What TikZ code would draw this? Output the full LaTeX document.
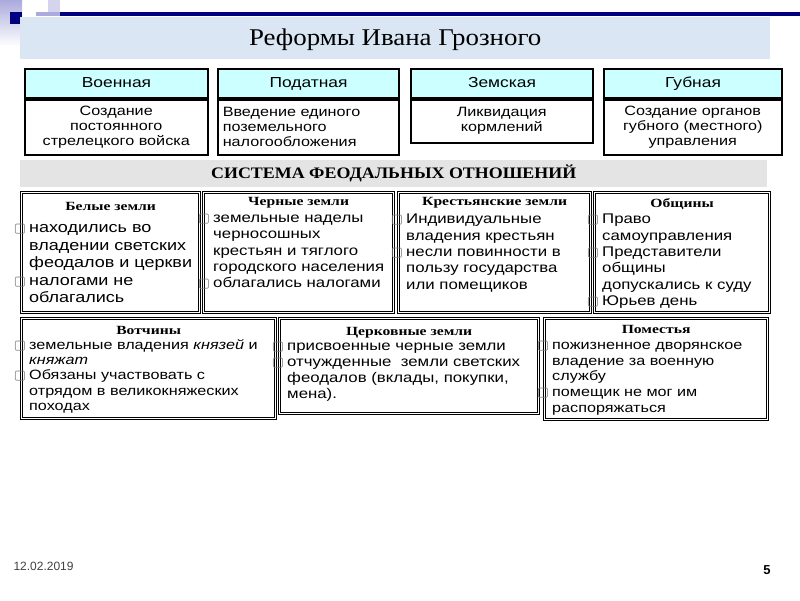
\documentclass[tikz,border=0pt]{standalone}
\usepackage{fontspec}
\setmainfont[FakeStretch=1.2]{Liberation Sans}
\newfontfamily\headface[FakeStretch=1.25]{Liberation Serif}
\newfontfamily\titleface[FakeStretch=1.12]{Liberation Serif}
\newfontfamily\footface{Liberation Sans}
\newfontfamily\symbface{DejaVu Sans}
\usepackage{tikz}
\usetikzlibrary{positioning}

\definecolor{navyline}{RGB}{0,0,128}
\definecolor{lavender}{RGB}{170,170,220}
\definecolor{headcyan}{RGB}{204,255,255}
\definecolor{titleblue}{RGB}{218,230,243}
\definecolor{bandgrey}{RGB}{228,228,228}
\definecolor{bulgrey}{RGB}{125,125,125}

\newcommand{\bul}{\llap{\textcolor{bulgrey}{\symbface\fontsize{13}{13}\selectfont ▢}\hspace{3pt}}}

\begin{document}
\begin{tikzpicture}[
  x=1pt, y=-1pt,
  reformhead/.style={
    draw=black,
    fill=headcyan,
    line width=2pt,
    anchor=north west,
    inner sep=0pt,
    minimum height=29pt,
    text height=10.5pt,
    text depth=3pt,
    font=\fontsize{14.5}{16}\selectfont
  },
  reformbody/.style={
    draw=black,
    fill=white,
    line width=1.5pt,
    anchor=north west,
    inner sep=0pt,
    align=center,
    font=\fontsize{13.5}{15}\selectfont
  },
  landbox/.style={
    draw=black,
    fill=white,
    line width=1.25pt,
    double=white,
    double distance=1.1pt,
    anchor=north west,
    inner sep=0pt
  },
  landtitle/.style={
    inner sep=0pt,
    font=\headface\bfseries\fontsize{12.5}{14}\selectfont
  },
  landtext/.style={
    anchor=north west,
    inner sep=0pt,
    align=left
  }
]
\useasboundingbox (0,0) rectangle (800,600);

% corner ornament
\shade[top color=lavender, bottom color=white] (0,0) rectangle (22,46);
\fill[lavender!50] (48,0) rectangle (60,12);
\fill[lavender] (36,12) rectangle (60,16);
\fill[navyline] (10,12) rectangle (22,24);
\fill[navyline] (60,12) rectangle (800,16);

% Title
\node[fill=titleblue, anchor=north west, inner sep=0pt,
  minimum width=750pt, minimum height=42pt, text depth=2pt,
  font=\titleface\fontsize{24}{28}\selectfont] (titleband) at (20,17)
{Реформы Ивана Грозного};

% -------------------------------------------------------------------
% reforms
% -------------------------------------------------------------------
\node[reformhead, minimum width=183pt] (milhead) at (24,68) {Военная};
\node[reformbody, minimum width=183pt, minimum height=55pt] (milbody)
  at (milhead.south west)
{Создание\\постоянного\\стрелецкого войска};

\node[reformhead, minimum width=181pt] (taxhead) at (217,68) {Податная};
\node[reformbody, minimum width=181pt, minimum height=55pt,
  text width=171pt, align=left] (taxbody)
  at (taxhead.south west)
{Введение единого\\поземельного\\налогообложения};

\node[reformhead, minimum width=182pt] (zemhead) at (410,68) {Земская};
\node[reformbody, minimum width=182pt, minimum height=43pt] (zembody)
  at (zemhead.south west)
{Ликвидация\\кормлений};

\node[reformhead, minimum width=178pt] (gubhead) at (603,68) {Губная};
\node[reformbody, minimum width=178pt, minimum height=55pt] (gubbody)
  at (gubhead.south west)
{Создание органов\\губного (местного)\\управления};

% -------------------------------------------------------------------
% feudal system
% -------------------------------------------------------------------
\node[fill=bandgrey, anchor=north west, inner sep=0pt,
  minimum width=747pt, minimum height=27pt,
  font=\titleface\bfseries\fontsize{16}{19}\selectfont] (feudband) at (20,160)
{СИСТЕМА ФЕОДАЛЬНЫХ ОТНОШЕНИЙ};

% white lands
\node[landbox, minimum width=178pt, minimum height=120pt] (white) at (21,192) {};
\node[landtitle] (whitetitle) at ([yshift=-14pt]white.north) {Белые земли};
\node[landtext, font=\fontsize{15}{17.5}\selectfont] (whitetext)
  at ([xshift=8pt,yshift=-32pt]white.north west)
{\bul находились во\\владении светских\\феодалов и церкви\\\bul налогами не\\облагались};

% black lands
\node[landbox, minimum width=190pt, minimum height=120pt] (black) at (203,192) {};
\node[landtitle] (blacktitle) at ([yshift=-11pt]black.north) {Черные земли};
\node[landtext, font=\fontsize{14}{16.3}\selectfont] (blacktext)
  at ([xshift=10pt,yshift=-22pt]black.north west)
{\bul земельные наделы\\черносошных\\крестьян и тяглого\\городского населения\\\bul облагались налогами};

% peasant lands
\node[landbox, minimum width=192pt, minimum height=120pt] (peasant) at (398,192) {};
\node[landtitle] (peasanttitle) at ([yshift=-11pt]peasant.north) {Крестьянские земли};
\node[landtext, font=\fontsize{14}{16.3}\selectfont] (peasanttext)
  at ([xshift=8pt,yshift=-22pt]peasant.north west)
{\bul Индивидуальные\\владения крестьян\\\bul несли повинности в\\пользу государства\\или помещиков};

% communes
\node[landbox, minimum width=175pt, minimum height=120pt] (commune) at (594,192) {};
\node[landtitle] (communetitle) at ([yshift=-12pt]commune.north) {Общины};
\node[landtext, font=\fontsize{14}{16.3}\selectfont] (communetext)
  at ([xshift=8pt,yshift=-22pt]commune.north west)
{\bul Право\\самоуправления\\\bul Представители\\общины\\допускались к суду\\\bul Юрьев день};

% patrimonies
\node[landbox, minimum width=254pt, minimum height=100pt] (votchina) at (21,318) {};
\node[landtitle] (votchinatitle) at ([yshift=-12pt]votchina.north) {Вотчины};
\node[landtext, font=\fontsize{13.5}{15.4}\selectfont] (votchinatext)
  at ([xshift=8pt,yshift=-21pt]votchina.north west)
{\bul земельные владения \textit{князей} и\\\textit{княжат}\\\bul Обязаны участвовать с\\отрядом в великокняжеских\\походах};

% church lands
\node[landbox, minimum width=259pt, minimum height=95pt] (church) at (279,318) {};
\node[landtitle] (churchtitle) at ([yshift=-15pt]church.north) {Церковные земли};
\node[landtext, font=\fontsize{14}{16}\selectfont] (churchtext)
  at ([xshift=8pt,yshift=-24pt]church.north west)
{\bul присвоенные черные земли\\\bul отчужденные\ \ земли светских\\феодалов (вклады, покупки,\\мена).};

% estates
\node[landbox, minimum width=223pt, minimum height=101pt] (estate) at (544,318) {};
\node[landtitle] (estatetitle) at ([yshift=-11pt]estate.north) {Поместья};
\node[landtext, font=\fontsize{13.5}{15.7}\selectfont] (estatetext)
  at ([xshift=8pt,yshift=-23pt]estate.north west)
{\bul пожизненное дворянское\\владение за военную\\службу\\\bul помещик не мог им\\распоряжаться};

% footer
\node[font=\footface\fontsize{12}{14}\selectfont, text=black!75, anchor=west] (datestamp)
  at (10,566) {12.02.2019};
\node[font=\footface\bfseries\fontsize{13}{15}\selectfont] (pagenum)
  at (767,570) {5};

\end{tikzpicture}
\end{document}
